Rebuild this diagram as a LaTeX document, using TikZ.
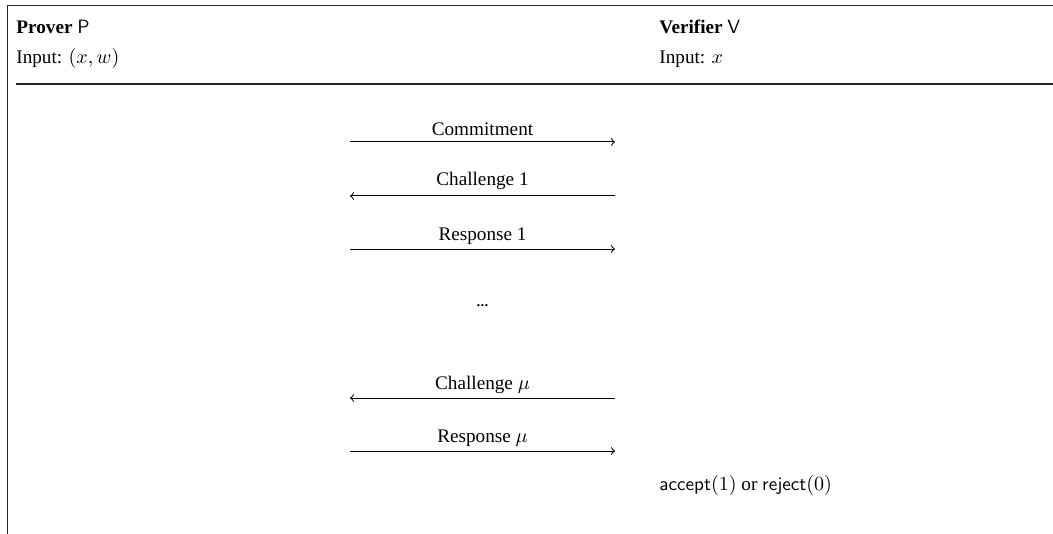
\documentclass[tikz,border=0pt]{standalone}
\usepackage{fontspec}
\setmainfont{Liberation Serif}
\begin{document}
\begin{tikzpicture}[x=0.5pt,y=-0.5pt,
  frame/.style={line width=0.7pt, draw=black!85},
  msg/.style={line width=0.5pt},
  lbl/.style={inner sep=0pt, anchor=base, font=\fontsize{9.6}{11}\selectfont},
  txt/.style={inner sep=0pt, anchor=base west, font=\fontsize{9.6}{11}\selectfont}]
\useasboundingbox (0,0) rectangle (1053,534);
% frame
\coordinate (tl) at (7.5,5.5);
\coordinate (tr) at (1053,5.5);
\coordinate (bl) at (7.5,534);
\coordinate (hl) at (16,84);
\coordinate (hr) at (1053,84);
\draw[frame] (bl) -- (tl) -- (tr);
\draw[frame] (hl) -- (hr);
% headers
\node[txt] (prover) at (16,34) {\textbf{Prover} $\mathsf{P}$};
\node[txt] (pin) at (16,64) {Input: $(x,w)$};
\node[txt] (verifier) at (659,34) {\textbf{Verifier} $\mathsf{V}$};
\node[txt] (vin) at (659,64) {Input: $x$};
% message endpoints
\coordinate (p1) at (350,142); \coordinate (v1) at (615,142);
\coordinate (p2) at (350,196); \coordinate (v2) at (615,196);
\coordinate (p3) at (350,249); \coordinate (v3) at (615,249);
\coordinate (p4) at (350,398); \coordinate (v4) at (615,398);
\coordinate (p5) at (350,451); \coordinate (v5) at (615,451);
% labels
\node[lbl] (l1) at (482.5,136) {Commitment};
\node[lbl] (l2) at (482.5,186) {Challenge 1};
\node[lbl] (l3) at (482.5,240) {Response 1};
\node[lbl] (dots) at (482.5,306) {.\kern-0.4pt.\kern-0.4pt.};
\node[lbl] (l4) at (482.5,389) {Challenge $\mu$};
\node[lbl] (l5) at (482.5,442) {Response $\mu$};
% arrows
\draw[msg,->] (p1) -- (v1);
\draw[msg,->] (v2) -- (p2);
\draw[msg,->] (p3) -- (v3);
\draw[msg,->] (v4) -- (p4);
\draw[msg,->] (p5) -- (v5);
% decision
\node[txt] (dec) at (659,490) {$\mathsf{accept}(1)$ or $\mathsf{reject}(0)$};
\end{tikzpicture}
\end{document}
